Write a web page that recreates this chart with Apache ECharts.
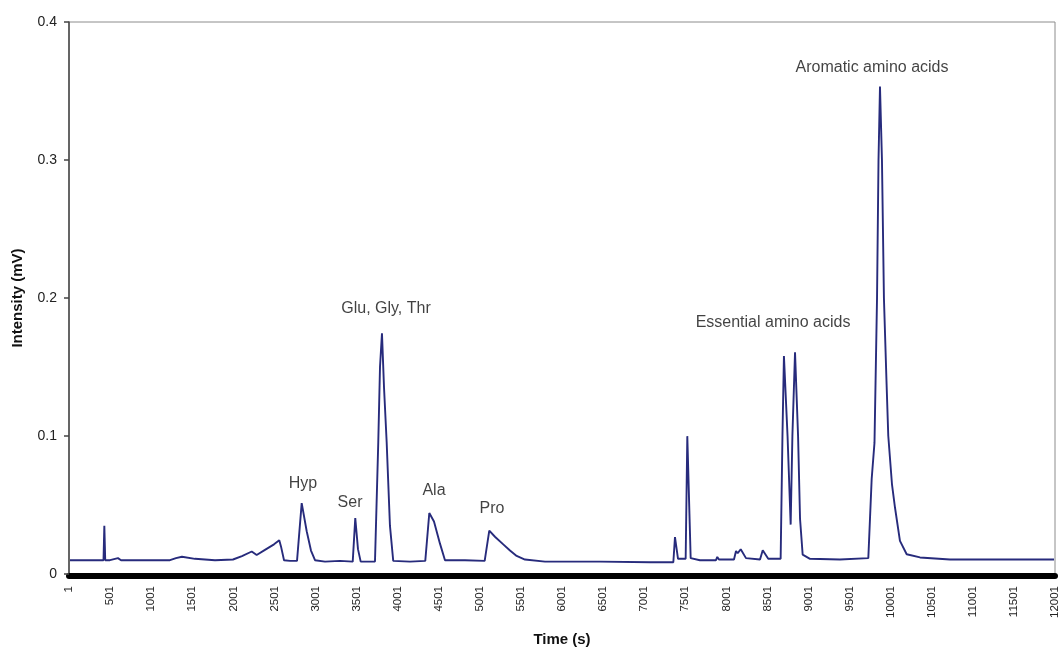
<!DOCTYPE html>
<html>
<head>
<meta charset="utf-8">
<script src="https://cdn.jsdelivr.net/npm/echarts@6/dist/echarts.min.js"></script>
<style>
  html, body { margin: 0; padding: 0; background: #ffffff; }
  #chart { width: 1062px; height: 652px; }
</style>
</head>
<body>
<div id="chart"></div>
<script>
// Time offset from the first sample (axis labels show sample number = offset + 1)
const times = [
  12, 377, 420, 430, 441, 499, 596, 633, 864, 1229, 1302, 1375, 1533, 1777, 1996,
  2105, 2224, 2284, 2385, 2495, 2559, 2580, 2617, 2690, 2775, 2832, 2893, 2945, 2994,
  3116, 3298, 3453, 3484, 3517, 3550, 3663, 3724, 3764, 3785, 3809, 3834, 3866, 3906,
  3946, 4150, 4336, 4385, 4442, 4515, 4576, 4819, 5059, 5115, 5184, 5285, 5367, 5448,
  5549, 5793, 6462, 7071, 7355, 7375, 7412, 7505, 7525, 7566, 7679, 7874, 7890, 7910,
  8093, 8118, 8138, 8175, 8239, 8410, 8443, 8510, 8661, 8683, 8701, 8745, 8783, 8804,
  8836, 8873, 8897, 8929, 9018, 9383, 9728, 9769, 9803, 9834, 9852, 9870, 9894, 9918,
  9949, 9971, 10016, 10053, 10113, 10195, 10357, 10722, 11331, 11988
];
const intensity = [
  0.010, 0.010, 0.010, 0.035, 0.010, 0.010, 0.0115, 0.010, 0.010, 0.010, 0.0115, 0.0125, 0.011, 0.010, 0.0105,
  0.013, 0.0163, 0.0138, 0.0175, 0.0215, 0.0244, 0.020, 0.010, 0.0095, 0.0095, 0.0514, 0.031, 0.017, 0.010,
  0.009, 0.0095, 0.009, 0.0406, 0.018, 0.009, 0.009, 0.009, 0.0956, 0.150, 0.1744, 0.135, 0.0956, 0.035,
  0.0095, 0.009, 0.0095, 0.0442, 0.038, 0.022, 0.010, 0.010, 0.0095, 0.0315, 0.027, 0.0215, 0.017, 0.0131,
  0.0105, 0.009, 0.009, 0.0085, 0.0085, 0.0267, 0.011, 0.011, 0.0999, 0.0115, 0.010, 0.010, 0.0124, 0.0105,
  0.0105, 0.0167, 0.0150, 0.0179, 0.0115, 0.0105, 0.0172, 0.011, 0.011, 0.100, 0.158, 0.100, 0.0358, 0.100,
  0.1606, 0.100, 0.040, 0.014, 0.011, 0.0105, 0.0115, 0.069, 0.095, 0.200, 0.300, 0.3533, 0.300, 0.200,
  0.140, 0.100, 0.065, 0.048, 0.024, 0.0143, 0.012, 0.0105, 0.0105, 0.0105
];

// Peak annotations
const peakLabels = ['Hyp', 'Ser', 'Glu, Gly, Thr', 'Ala', 'Pro', 'Essential amino acids', 'Aromatic amino acids'];
const peakLabelTimes = [2848, 3420, 3858, 4442, 5148, 8568, 9773];
const peakLabelValues = [0.0652, 0.0516, 0.1921, 0.0602, 0.0473, 0.1821, 0.3670];

const xMin = 0, xMax = 12000, xStep = 500;
const yMin = 0, yMax = 0.4, yStep = 0.1;

const FONT = 'Liberation Sans, Arial, sans-serif';

const chart = echarts.init(document.getElementById('chart'), null, { renderer: 'canvas' });

chart.setOption({
  animation: false,
  backgroundColor: '#ffffff',
  grid: {
    left: 69, right: 7, top: 22, bottom: 72,
    show: true, borderColor: '#8c8c8c', borderWidth: 1, backgroundColor: 'transparent'
  },
  xAxis: {
    type: 'value',
    min: xMin, max: xMax, interval: xStep,
    offset: 2,
    name: 'Time (s)',
    nameLocation: 'middle',
    nameGap: 56,
    nameTextStyle: { fontFamily: FONT, fontSize: 15, fontWeight: 'bold', color: '#111' },
    axisLine: { show: true, onZero: false, lineStyle: { color: '#000', width: 6 } },
    axisTick: { show: false },
    splitLine: { show: false },
    axisLabel: {
      rotate: 90, margin: 10, fontFamily: FONT, fontSize: 11.5, color: '#222',
      formatter: v => String(Math.round(v) + 1)
    }
  },
  yAxis: {
    type: 'value',
    min: yMin, max: yMax, interval: yStep,
    name: 'Intensity (mV)',
    nameLocation: 'middle',
    nameGap: 44,
    nameRotate: 90,
    nameTextStyle: { fontFamily: FONT, fontSize: 15, fontWeight: 'bold', color: '#111' },
    axisLine: { show: true, lineStyle: { color: '#444', width: 1.5 } },
    axisTick: { show: true, length: 5, inside: false, lineStyle: { color: '#444', width: 1.5 } },
    splitLine: { show: false },
    axisLabel: {
      margin: 12, fontFamily: FONT, fontSize: 14, color: '#222',
      formatter: v => String(Math.round(v * 10) / 10)
    }
  },
  series: [
    {
      type: 'line',
      data: times.map((t, i) => [t, intensity[i]]),
      showSymbol: false,
      symbol: 'none',
      smooth: false,
      lineStyle: { color: '#272B7C', width: 1.9 },
      z: 3
    },
    {
      type: 'scatter',
      data: peakLabelTimes.map((t, i) => [t, peakLabelValues[i], peakLabels[i]]),
      symbolSize: 1,
      itemStyle: { color: 'rgba(0,0,0,0)' },
      label: {
        show: true, position: 'inside',
        fontFamily: FONT, fontSize: 16, color: '#111',
        textBorderWidth: 0, textBorderColor: 'transparent',
        formatter: p => p.data[2]
      },
      emphasis: { disabled: true },
      silent: true,
      z: 4
    }
  ]
});
</script>
</body>
</html>
